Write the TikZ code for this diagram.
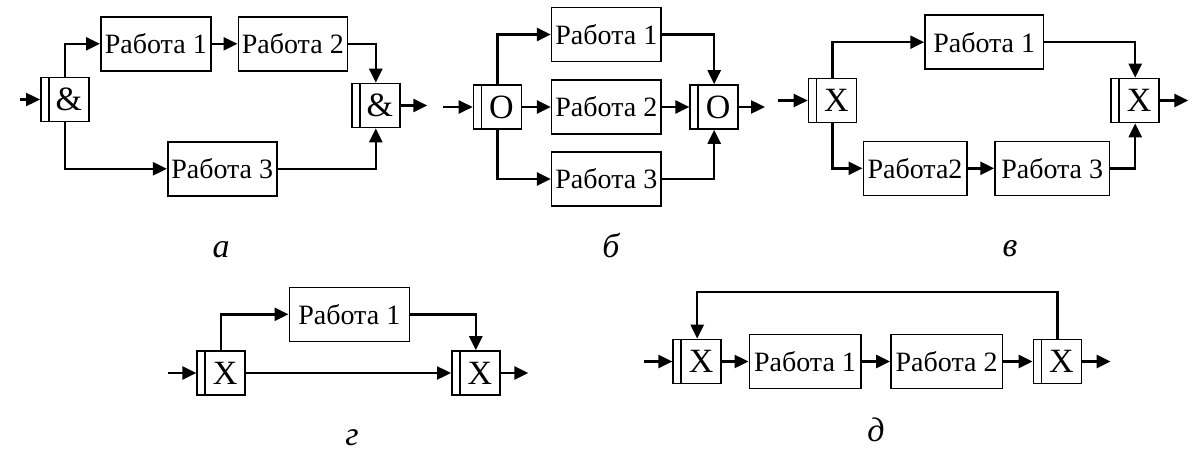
\documentclass[tikz,border=0pt]{standalone}
\usepackage{fontspec}
\setmainfont{Liberation Serif}
\usetikzlibrary{arrows.meta}
\tikzset{
  box/.style={draw, line width=1.6pt, minimum height=54pt, inner sep=0pt, font=\fontsize{28}{30}\selectfont},
  gate/.style={draw, line width=1.6pt, minimum width=48pt, minimum height=44pt, inner sep=0pt,
    font=\fontsize{34}{34}\selectfont,
    path picture={\draw[line width=1.6pt] ([xshift=8pt]path picture bounding box.north west) -- ([xshift=8pt]path picture bounding box.south west);}},
  conn/.style={line width=2.4pt, -{Triangle[length=14pt,width=13pt]}},
  lbl/.style={font=\fontsize{34}{36}\selectfont\itshape, anchor=base, inner sep=0pt}
}
\newcommand{\gt}[1]{\hspace*{8pt}#1}
\begin{document}
\begin{tikzpicture}[x=1pt,y=-1pt]
\useasboundingbox[fill=white] (0,0) rectangle (1192,452);
% ---- a ----
\node[gate] (G1) at (64.8,99.5) {\gt{\&}};
\node[box, minimum width=110pt] (R1) at (155.8,43.8) {Работа 1};
\node[box, minimum width=109pt] (R2) at (292.8,43.8) {Работа 2};
\node[box, minimum width=109pt] (R3) at (222.2,168.8) {Работа 3};
\node[gate] (G2) at (375.8,105.5) {\gt{\&}};
\coordinate (ain) at (20,99.5);
\coordinate (aout) at (427.3,105.5);
\draw[conn] (ain) -- (G1.west);
\draw[conn] (G1.north) |- (R1.west);
\draw[conn] (R1.east) -- (R2.west);
\draw[conn] (R2.east) -| (G2.north);
\draw[conn] (G1.south) |- (R3.west);
\draw[conn] (R3.east) -| (G2.south);
\draw[conn] (G2.east) -- (aout);
\node[lbl] (la) at (221,257) {а};
% ---- b ----
\node[gate] (G3) at (497.5,107) {\gt{O}};
\node[box, minimum width=109.3pt] (B1) at (606.3,34.5) {Работа 1};
\node[box, minimum width=109.3pt] (B2) at (606.3,107) {Работа 2};
\node[box, minimum width=109.3pt] (B3) at (606.3,179) {Работа 3};
\node[gate] (G4) at (714.2,107) {\gt{O}};
\coordinate (bin) at (443.3,107);
\coordinate (bout) at (765,107);
\draw[conn] (bin) -- (G3.west);
\draw[conn] (G3.north) |- (B1.west);
\draw[conn] (G3.east) -- (B2.west);
\draw[conn] (G3.south) |- (B3.west);
\draw[conn] (B1.east) -| (G4.north);
\draw[conn] (B2.east) -- (G4.west);
\draw[conn] (B3.east) -| (G4.south);
\draw[conn] (G4.east) -- (bout);
\node[lbl] (lb) at (611,257) {б};
% ---- v ----
\node[gate] (G5) at (832.5,100.5) {\gt{X}};
\node[box, minimum width=118.3pt] (V1) at (984.2,42.2) {Работа 1};
\node[box, minimum width=103.4pt] (V2) at (915,168.3) {Работа2};
\node[box, minimum width=114.3pt] (V3) at (1052.2,168.3) {Работа 3};
\node[gate] (G6) at (1135.2,100.5) {\gt{X}};
\coordinate (vin) at (778,100.5);
\coordinate (vout) at (1188.3,100.5);
\draw[conn] (vin) -- (G5.west);
\draw[conn] (G5.north) |- (V1.west);
\draw[conn] (V1.east) -| (G6.north);
\draw[conn] (G5.south) |- (V2.west);
\draw[conn] (V2.east) -- (V3.west);
\draw[conn] (V3.east) -| (G6.south);
\draw[conn] (G6.east) -- (vout);
\node[lbl] (lv) at (1010,256) {в};
% ---- g ----
\node[gate] (G7) at (221.2,373) {\gt{X}};
\node[box, minimum width=120pt] (D1) at (349.3,314.3) {Работа 1};
\node[gate] (G8) at (475.8,373) {\gt{X}};
\coordinate (gin) at (168.3,373);
\coordinate (gout) at (528.3,373);
\draw[conn] (gin) -- (G7.west);
\draw[conn] (G7.north) |- (D1.west);
\draw[conn] (D1.east) -| (G8.north);
\draw[conn] (G7.east) -- (G8.west);
\draw[conn] (G8.east) -- (gout);
\node[lbl] (lg) at (352,445) {г};
% ---- d ----
\node[gate] (G9) at (697.2,361.5) {\gt{X}};
\node[box, minimum width=111.4pt] (E1) at (805,361.5) {Работа 1};
\node[box, minimum width=111.4pt] (E2) at (946.6,361.5) {Работа 2};
\node[gate] (G10) at (1057.4,361.5) {\gt{X}};
\coordinate (din) at (643.6,361.5);
\coordinate (dout) at (1110.6,361.5);
\coordinate (dtop) at (1057.4,291.7);
\draw[conn] (din) -- (G9.west);
\draw[conn] (G9.east) -- (E1.west);
\draw[conn] (E1.east) -- (E2.west);
\draw[conn] (E2.east) -- (G10.west);
\draw[conn] (G10.east) -- (dout);
\draw[conn] (G10.north) -- (dtop) -| (G9.north);
\node[lbl] (ld) at (876,441) {д};
\end{tikzpicture}
\end{document}
